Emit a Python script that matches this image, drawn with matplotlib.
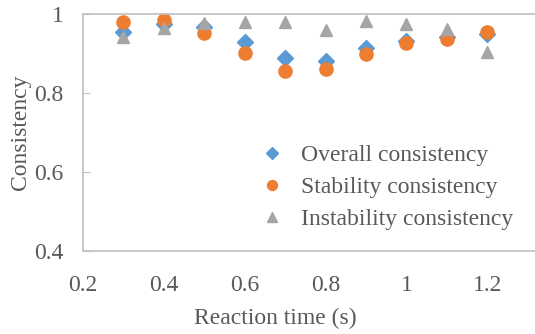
import numpy as np
import matplotlib
matplotlib.use("Agg")
import matplotlib.pyplot as plt
from matplotlib.ticker import FuncFormatter

reaction_time = [0.3, 0.4, 0.5, 0.6, 0.7, 0.8, 0.9, 1.0, 1.1, 1.2]
overall = [0.955, 0.975, 0.966, 0.930, 0.888, 0.882, 0.913, 0.932, 0.943, 0.949]
stability = [0.980, 0.986, 0.951, 0.902, 0.856, 0.862, 0.899, 0.927, 0.938, 0.954]
instability = [0.941, 0.964, 0.978, 0.979, 0.980, 0.960, 0.983, 0.974, 0.962, 0.905]

text_color = "#595959"
axis_color = "#BFBFBF"
fsize = 17

plt.rcParams["font.family"] = ["Liberation Serif", "DejaVu Serif"]

fig = plt.figure(figsize=(5.35, 3.34), dpi=100)
ax = fig.add_axes([0.155, 0.248, 0.845, 0.71])

ax.plot(reaction_time, overall, "D", color="#5B9BD5", markersize=8, label="Overall consistency")
ax.plot(reaction_time, stability, "o", color="#ED7D31", markersize=9.5, label="Stability consistency")
ax.plot(reaction_time, instability, "^", color="#A5A5A5", markersize=9, label="Instability consistency")

ax.set_xlim(0.2, 1.318)
ax.set_ylim(0.4, 1.0)
ax.set_xticks([0.2, 0.4, 0.6, 0.8, 1.0, 1.2])
ax.set_yticks([0.4, 0.6, 0.8, 1.0])
fmt = FuncFormatter(lambda v, p: "%g" % round(v, 2))
ax.xaxis.set_major_formatter(fmt)
ax.yaxis.set_major_formatter(fmt)

for side in ["left", "bottom", "top"]:
    ax.spines[side].set_color(axis_color)
    ax.spines[side].set_linewidth(1.2)
ax.spines["right"].set_visible(False)

ax.tick_params(axis="x", length=0, labelsize=fsize, labelcolor=text_color, pad=17)
ax.tick_params(axis="y", direction="in", length=5, color=axis_color,
               labelsize=fsize, labelcolor=text_color, pad=14)

ax.set_xlabel("Reaction time (s)", fontsize=fsize, color=text_color)
ax.xaxis.set_label_coords(0.426, -0.24)
ax.set_ylabel("Consistency", fontsize=fsize, color=text_color, labelpad=2)

leg = ax.legend(loc="center left", bbox_to_anchor=(0.367, 0.269), frameon=False,
                fontsize=fsize, handletextpad=0.6, labelspacing=0.45,
                handlelength=1.2, borderaxespad=0, markerscale=0.75)
for t in leg.get_texts():
    t.set_color(text_color)

fig.savefig("out.png", dpi=100)
